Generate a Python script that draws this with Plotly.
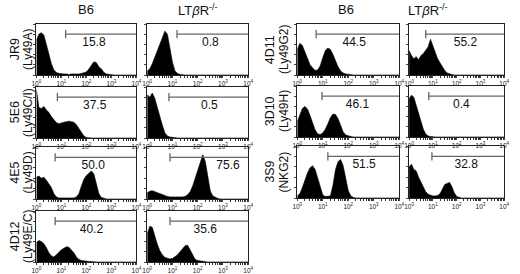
import numpy as np
import plotly.graph_objects as go

# ---------------- data ----------------
# histogram sample points in log10(fluorescence) units, 0..3.9 in steps of 0.1
LOG_POS = np.round(np.arange(0, 3.95, 0.1), 2)

# event counts per channel (relative, % of panel height)
jr9_b6 = [68, 80, 83, 78, 60, 40, 22, 10, 5, 3, 2, 2, 2, 1, 2, 2, 1, 2, 3, 4,
          6, 12, 20, 26, 24, 16, 12, 5, 2, 1, 0, 0, 0, 0, 0, 0, 0, 0, 0, 0]
jr9_ko = [8, 12, 22, 35, 50, 62, 75, 86, 80, 55, 25, 8, 3, 1, 0, 0, 0, 0, 0, 0,
          0, 0, 0, 0, 0, 0, 0, 0, 0, 0, 0, 0, 0, 0, 0, 0, 0, 0, 0, 0]
e6_b6 = [95, 60, 58, 62, 55, 50, 42, 35, 30, 28, 30, 31, 32, 33, 32, 31, 26, 18, 10, 4,
         1, 0, 0, 0, 0, 0, 0, 0, 0, 0, 0, 0, 0, 0, 0, 0, 0, 0, 0, 0]
e6_ko = [85, 80, 88, 78, 60, 40, 25, 10, 4, 2, 1, 0, 0, 0, 0, 0, 0, 0, 0, 0,
         0, 0, 0, 0, 0, 0, 0, 0, 0, 0, 0, 0, 0, 0, 0, 0, 0, 0, 0, 0]
e5_b6 = [42, 44, 40, 42, 36, 30, 22, 10, 4, 2, 2, 1, 2, 1, 2, 2, 4, 10, 25, 38,
         45, 50, 54, 48, 30, 10, 3, 1, 0, 0, 0, 0, 0, 0, 0, 0, 0, 0, 0, 0]
e5_ko = [12, 15, 16, 14, 13, 11, 9, 7, 5, 4, 4, 3, 3, 3, 4, 5, 8, 14, 25, 40,
         55, 70, 85, 72, 40, 15, 6, 3, 1, 0, 0, 0, 0, 0, 0, 0, 0, 0, 0, 0]
d12_b6 = [38, 42, 40, 36, 28, 18, 12, 10, 14, 20, 24, 27, 30, 29, 24, 18, 10, 5, 3, 2,
          1, 1, 1, 0, 0, 0, 0, 0, 0, 0, 0, 0, 0, 0, 0, 0, 0, 0, 0, 0]
d12_ko = [55, 70, 68, 50, 35, 22, 14, 9, 7, 6, 7, 10, 14, 20, 26, 32, 33, 24, 12, 5,
          3, 2, 2, 1, 0, 0, 0, 0, 0, 0, 0, 0, 0, 0, 0, 0, 0, 0, 0, 0]
d11_b6 = [50, 62, 58, 45, 32, 20, 14, 9, 10, 18, 34, 48, 53, 50, 40, 28, 16, 8, 4, 2,
          1, 0, 0, 0, 0, 0, 0, 0, 0, 0, 0, 0, 0, 0, 0, 0, 0, 0, 0, 0]
d11_ko = [48, 38, 32, 36, 30, 38, 42, 48, 55, 70, 58, 42, 32, 24, 16, 9, 4, 2, 1, 0,
          0, 0, 0, 0, 0, 0, 0, 0, 0, 0, 0, 0, 0, 0, 0, 0, 0, 0, 0, 0]
d10_b6 = [30, 45, 56, 60, 55, 42, 28, 14, 6, 5, 8, 15, 26, 38, 45, 44, 36, 22, 10, 4,
          2, 1, 0, 0, 0, 0, 0, 0, 0, 0, 0, 0, 0, 0, 0, 0, 0, 0, 0, 0]
d10_ko = [75, 82, 78, 62, 45, 30, 15, 6, 2, 1, 0, 0, 0, 0, 0, 0, 0, 0, 0, 0,
          0, 0, 0, 0, 0, 0, 0, 0, 0, 0, 0, 0, 0, 0, 0, 0, 0, 0, 0, 0]
s9_b6 = [4, 8, 20, 35, 48, 58, 62, 55, 38, 18, 6, 3, 3, 4, 25, 55, 70, 74, 62, 38,
         14, 4, 1, 0, 0, 0, 0, 0, 0, 0, 0, 0, 0, 0, 0, 0, 0, 0, 0, 0]
s9_ko = [60, 65, 55, 52, 40, 30, 20, 12, 7, 5, 4, 4, 5, 8, 18, 26, 28, 30, 22, 10,
         3, 1, 0, 0, 0, 0, 0, 0, 0, 0, 0, 0, 0, 0, 0, 0, 0, 0, 0, 0]

clones = ["JR9", "5E6", "4E5", "4D12", "4D11", "3D10", "3S9"]
receptors = ["(Ly49A)", "(Ly49C/I)", "(Ly49D)", "(Ly49E/C)", "(Ly49G2)", "(Ly49H)", "(NKG2)"]
hist_b6 = [jr9_b6, e6_b6, e5_b6, d12_b6, d11_b6, d10_b6, s9_b6]
hist_ko = [jr9_ko, e6_ko, e5_ko, d12_ko, d11_ko, d10_ko, s9_ko]
pct_b6 = [15.8, 37.5, 50.0, 40.2, 44.5, 46.1, 51.5]
pct_ko = [0.8, 0.5, 75.6, 35.6, 55.2, 0.4, 32.8]
# gate start (log10 units)
gate_b6 = [1.17, 0.84, 0.75, 0.75, 0.74, 0.97, 1.2]
gate_ko = [1.18, 0.86, 0.9, 0.9, 0.7, 0.83, 0.96]
tick_vals = [1, 10, 100, 1000, 10000]
tick_text = ["10<sup>0</sup>", "10<sup>1</sup>", "10<sup>2</sup>", "10<sup>3</sup>", "10<sup>4</sup>"]
col_titles = ["B6", "LT<i>β</i>R<sup>-/-</sup>"]

# ---------------- layout geometry (pixels) ----------------
W, H = 520, 274
col_px = {"A": (32, 134), "B": (145, 248), "C": (298, 402), "D": (412, 509)}
row_px_left = [(24, 75), (87, 138), (147, 199), (211, 262)]
row_px_right = [(24, 75), (86, 137), (146, 198)]
label_x_b6 = [2.3, 2.33, 2.27, 2.2, 2.23, 2.36, 2.62]
label_x_ko = [2.5, 2.46, 3.2, 2.3, 2.37, 2.2, 2.4]

FONT = "Arial, Liberation Sans, sans-serif"
minor_vals = [m * 10 ** d for d in range(4) for m in range(2, 10)]

fig = go.Figure()
layout_axes = {}
annotations = []


def xdom(c):
    a, b = col_px[c]
    return [a / W, b / W]


def ydom(r):
    t, b = r
    return [1 - b / H, 1 - t / H]


panels = []
for i in range(7):
    if i < 4:
        rows = row_px_left[i]
        cols = ("A", "B")
    else:
        rows = row_px_right[i - 4]
        cols = ("C", "D")
    panels.append((i, cols[0], rows, hist_b6[i], pct_b6[i], gate_b6[i], label_x_b6[i]))
    panels.append((i, cols[1], rows, hist_ko[i], pct_ko[i], gate_ko[i], label_x_ko[i]))

xs = [10 ** e for e in LOG_POS] + [10 ** 4]
for k, (i, c, rows, hist, pct, gate, lx) in enumerate(panels):
    n = k + 1
    xa = "x" if n == 1 else f"x{n}"
    ya = "y" if n == 1 else f"y{n}"
    ys = list(hist) + [hist[-1]]
    fig.add_trace(go.Scatter(x=xs, y=ys, mode="lines", line=dict(color="black", width=0.6),
                             fill="tozeroy", fillcolor="black", xaxis=xa, yaxis=ya, hoverinfo="skip"))
    # gate bar
    fig.add_trace(go.Scatter(x=[10 ** gate, 10 ** 4], y=[80, 80], mode="lines",
                             line=dict(color="#666", width=1.3), xaxis=xa, yaxis=ya, hoverinfo="skip"))
    fig.add_trace(go.Scatter(x=[10 ** gate, 10 ** gate], y=[72, 88], mode="lines",
                             line=dict(color="#666", width=1.3), xaxis=xa, yaxis=ya, hoverinfo="skip"))
    fig.add_trace(go.Scatter(x=[10 ** lx], y=[63], mode="text", text=[f"{pct:.1f}"],
                             textfont=dict(family=FONT, size=12, color="#111"),
                             xaxis=xa, yaxis=ya, hoverinfo="skip"))
    xkey = "xaxis" if n == 1 else f"xaxis{n}"
    ykey = "yaxis" if n == 1 else f"yaxis{n}"
    layout_axes[xkey] = dict(domain=xdom(c), anchor=ya, type="log", range=[0, 4],
                             tickvals=tick_vals, ticktext=tick_text, ticks="outside", ticklen=2,
                             tickfont=dict(family=FONT, size=6.5, color="#222"),
                             minor=dict(tickvals=minor_vals, ticks="outside", ticklen=1.5, tickcolor="#333"),
                             showline=True, mirror=True, linecolor="#222", linewidth=1,
                             showgrid=False, zeroline=False, fixedrange=True)
    layout_axes[ykey] = dict(domain=ydom(rows), anchor=xa, range=[0, 100],
                             tickvals=[0, 20, 40, 60, 80, 100], ticks="outside", ticklen=2,
                             showticklabels=False, showline=True, mirror=True, linecolor="#222",
                             linewidth=1, showgrid=False, zeroline=False, fixedrange=True)


def ann(xpx, ypx, text, size, angle=0):
    return dict(x=xpx / W, y=1 - ypx / H, xref="paper", yref="paper", text=text, textangle=angle,
                xanchor="center", yanchor="middle", showarrow=False,
                font=dict(family=FONT, size=size, color="#111"))


# column titles
annotations.append(ann(sum(col_px["A"]) / 2, 10, col_titles[0], 13))
annotations.append(ann(sum(col_px["B"]) / 2, 10, col_titles[1], 13))
annotations.append(ann(348, 10, col_titles[0], 13))
annotations.append(ann(431, 10, col_titles[1], 13))

# row labels
for i in range(7):
    if i < 4:
        t, b = row_px_left[i]
        x1, x2 = 10, 23
    else:
        t, b = row_px_right[i - 4]
        x1, x2 = 270, 284
    yc = (t + b) / 2
    annotations.append(ann(x1, yc, clones[i], 12.5, -90))
    annotations.append(ann(x2, yc, receptors[i], 12, -90))

fig.update_layout(width=W, height=H, margin=dict(l=0, r=0, t=0, b=0), showlegend=False,
                  paper_bgcolor="white", plot_bgcolor="white", annotations=annotations, **layout_axes)
fig.write_html("out.html", config={"displayModeBar": False},
               post_script="document.body.style.margin='0px';document.body.style.overflow='hidden';")
